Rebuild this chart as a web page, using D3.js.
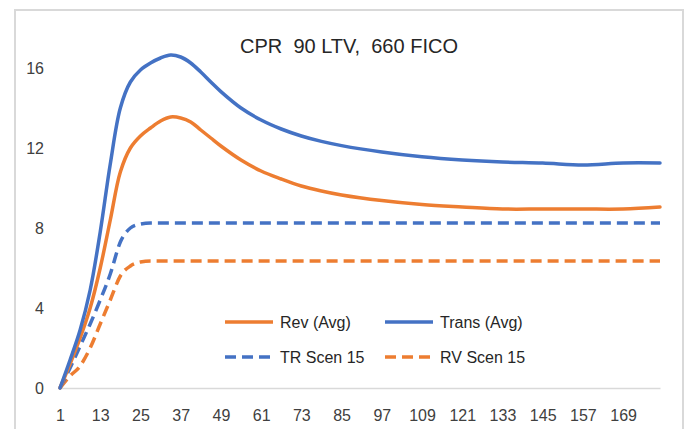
<!DOCTYPE html>
<html>
<head>
<meta charset="utf-8">
<script src="https://cdn.jsdelivr.net/npm/d3@7"></script>
<style>
  body { margin: 0; background: #fff; }
  text { font-family: "Liberation Sans Narrow", "Arial Narrow", "Liberation Sans", sans-serif; fill: #262626; }
</style>
</head>
<body>
<div id="chart"></div>
<script>
// months (loan age)
const periods = [1, 4, 7, 10, 13, 16, 19, 22, 25, 28, 31, 34, 37, 40, 43, 46, 49, 55, 61, 67, 73, 79, 85, 97, 109, 121, 133, 145, 157, 169, 180];

const revAvg   = [0, 1.2, 2.5, 4.0, 6.0, 8.4, 10.8, 12.0, 12.6, 13.0, 13.35, 13.55, 13.5, 13.3, 12.9, 12.5, 12.1, 11.4, 10.85, 10.45, 10.1, 9.85, 9.65, 9.37, 9.17, 9.05, 8.95, 8.95, 8.95, 8.95, 9.05];
const transAvg = [0, 1.4, 2.9, 4.9, 7.8, 11.2, 14.0, 15.3, 15.9, 16.25, 16.5, 16.65, 16.55, 16.25, 15.8, 15.3, 14.82, 14.0, 13.4, 12.95, 12.6, 12.33, 12.12, 11.8, 11.56, 11.4, 11.3, 11.25, 11.15, 11.25, 11.25];
const trScen15 = [0, 1.0, 2.1, 3.2, 4.4, 5.7, 7.3, 8.0, 8.2, 8.25, 8.25, 8.25, 8.25, 8.25, 8.25, 8.25, 8.25, 8.25, 8.25, 8.25, 8.25, 8.25, 8.25, 8.25, 8.25, 8.25, 8.25, 8.25, 8.25, 8.25, 8.25];
const rvScen15 = [0, 0.6, 1.1, 2.0, 3.2, 4.4, 5.6, 6.1, 6.3, 6.35, 6.35, 6.35, 6.35, 6.35, 6.35, 6.35, 6.35, 6.35, 6.35, 6.35, 6.35, 6.35, 6.35, 6.35, 6.35, 6.35, 6.35, 6.35, 6.35, 6.35, 6.35];

const xTicks = [1, 13, 25, 37, 49, 61, 73, 85, 97, 109, 121, 133, 145, 157, 169];
const yTicks = [0, 4, 8, 12, 16];

const series = [
  { name: "Rev (Avg)",   values: revAvg,   color: "#ED7D31", dash: null },
  { name: "Trans (Avg)", values: transAvg, color: "#4472C4", dash: null },
  { name: "TR Scen 15",  values: trScen15, color: "#4472C4", dash: "11,6" },
  { name: "RV Scen 15",  values: rvScen15, color: "#ED7D31", dash: "11,6" }
];

const width = 688, height = 429;

const svg = d3.select("#chart").append("svg")
  .attr("width", width)
  .attr("height", height);

// outer chart frame
svg.append("rect")
  .attr("x", 15).attr("y", 10)
  .attr("width", 668).attr("height", 440)
  .attr("fill", "#fff")
  .attr("stroke", "#d9d9d9")
  .attr("stroke-width", 2);

const x = d3.scaleLinear().domain([1, 180]).range([60, 660]);
const y = d3.scaleLinear().domain([0, 16]).range([388, 68]);

// title
svg.append("text")
  .attr("x", 349).attr("y", 53)
  .attr("text-anchor", "middle")
  .style("font-size", "20px")
  .style("white-space", "pre")
  .text("CPR  90 LTV,  660 FICO");

// x axis
const xAxis = svg.append("g")
  .attr("transform", `translate(0,${y(0)})`)
  .call(d3.axisBottom(x).tickValues(xTicks).tickSize(0).tickPadding(22));
xAxis.select(".domain").attr("stroke", "#d9d9d9").attr("stroke-width", 1.5);
xAxis.selectAll("text").style("font-size", "16px").style("fill", "#404040");

// y axis (no line)
const yAxis = svg.append("g")
  .attr("transform", "translate(44,0)")
  .call(d3.axisLeft(y).tickValues(yTicks).tickSize(0).tickPadding(0));
yAxis.select(".domain").remove();
yAxis.selectAll("text").style("font-size", "16px").style("fill", "#404040");

const lineSolid = d3.line()
  .x((d, i) => x(periods[i]))
  .y(d => y(d))
  .curve(d3.curveCatmullRom.alpha(0.5));

const lineDash = d3.line()
  .x((d, i) => x(periods[i]))
  .y(d => y(d))
  .curve(d3.curveMonotoneX);

// draw dashed first, then solid on top
[series[3], series[2], series[0], series[1]].forEach(s => {
  svg.append("path")
    .datum(s.values)
    .attr("d", s.dash ? lineDash : lineSolid)
    .attr("fill", "none")
    .attr("stroke", s.color)
    .attr("stroke-width", 3.5)
    .attr("stroke-linejoin", "round")
    .attr("stroke-linecap", s.dash ? "butt" : "round")
    .attr("stroke-dasharray", s.dash);
});

// legend, 2 x 2
const legendPos = [[225, 322], [385, 322], [225, 357], [385, 357]];
series.forEach((s, i) => {
  const g = svg.append("g").attr("transform", `translate(${legendPos[i][0]},${legendPos[i][1]})`);
  g.append("line")
    .attr("x1", 0).attr("x2", s.dash ? 45 : 48)
    .attr("y1", 0).attr("y2", 0)
    .attr("stroke", s.color)
    .attr("stroke-width", 3.5)
    .attr("stroke-dasharray", s.dash);
  g.append("text")
    .attr("x", 55).attr("y", 6)
    .style("font-size", "16px")
    .text(s.name);
});
</script>
</body>
</html>
